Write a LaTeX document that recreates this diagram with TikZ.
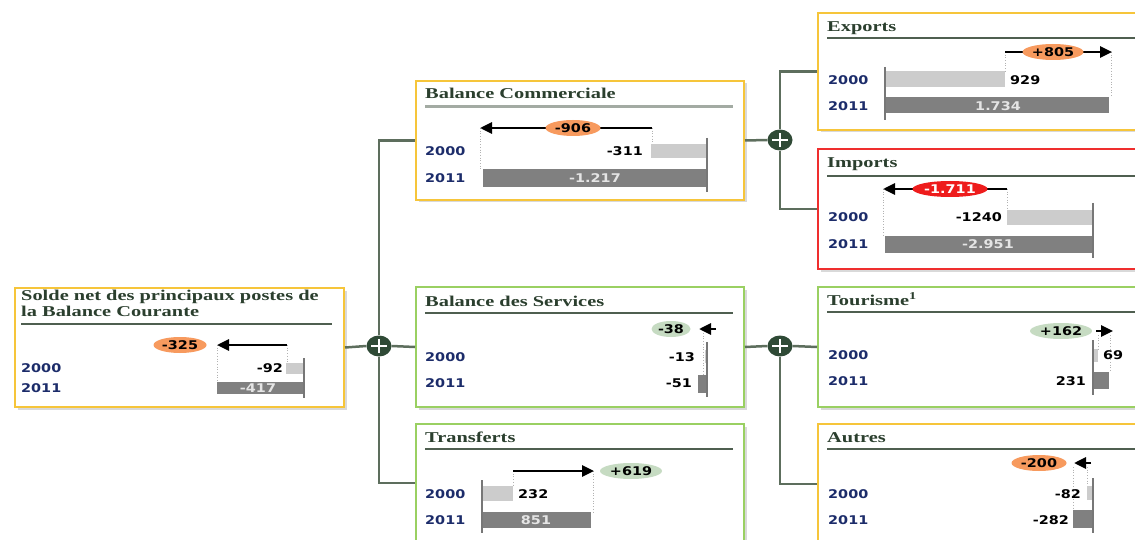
\documentclass[tikz,border=0pt]{standalone}
\usepackage{fontspec}
\setmainfont{Liberation Serif}
\newfontfamily\titlefont{Liberation Serif}[FakeStretch=1.36]
\newfontfamily\numfont{DejaVu Sans}[FakeStretch=1.2]
\usetikzlibrary{shapes.geometric,arrows.meta,shadows}
\definecolor{ttlc}{HTML}{2B3F2E}
\definecolor{navyc}{HTML}{1C2C6A}
\definecolor{boxy}{HTML}{F6C53A}
\definecolor{boxg}{HTML}{9AD062}
\definecolor{boxr}{HTML}{EF2E2E}
\definecolor{connc}{HTML}{5D6E5D}
\definecolor{plusc}{HTML}{2F4A36}
\definecolor{rulec}{HTML}{4F5F50}
\definecolor{rulelt}{HTML}{A3ABA3}
\definecolor{axisc}{HTML}{777777}
\definecolor{lbarc}{HTML}{CCCCCC}
\definecolor{dbarc}{HTML}{808080}
\definecolor{ellor}{HTML}{F79A5E}
\definecolor{ellgr}{HTML}{C6DBC2}
\definecolor{ellrd}{HTML}{EE1C1C}
\begin{document}
\begin{tikzpicture}[x=1pt,y=-1pt,
  panel/.style={draw, line width=2pt, fill=white, anchor=north west, inner sep=0,
    drop shadow={shadow xshift=2.5pt,shadow yshift=-2.5pt,opacity=0.3}},
  ybox/.style={panel, draw=boxy},
  gbox/.style={panel, draw=boxg},
  rbox/.style={panel, draw=boxr},
  conn/.style={draw=connc, line width=2.5pt},
  plusnode/.style={ellipse, fill=plusc, minimum width=25pt, minimum height=21pt, inner sep=0,
    path picture={\draw[white,line width=2.2pt]
      ([xshift=-8pt]path picture bounding box.center) -- ([xshift=8pt]path picture bounding box.center)
      ([yshift=-7pt]path picture bounding box.center) -- ([yshift=7pt]path picture bounding box.center);}},
  ttl/.style={font=\titlefont\bfseries\fontsize{15}{17}\selectfont, text=ttlc, anchor=base west, inner sep=0},
  yr/.style={font=\numfont\bfseries\fontsize{12}{12}\selectfont, text=navyc, anchor=west, inner sep=0},
  val/.style={font=\numfont\bfseries\fontsize{12}{12}\selectfont, text=black, inner sep=0},
  wval/.style={val, text=white!90!black},
  rule/.style={draw=rulec, line width=1.8pt},
  axisln/.style={draw=axisc, line width=2.5pt},
  lbar/.style={fill=lbarc},
  dbar/.style={fill=dbarc},
  guide/.style={draw=gray!60, dotted, line width=0.7pt},
  darr/.style={draw=black, line width=2.8pt, -{Triangle[length=12pt,width=11pt]}},
  dlt/.style={ellipse, inner sep=0, minimum height=16pt, font=\numfont\bfseries\fontsize{12}{12}\selectfont},
  dor/.style={dlt, fill=ellor},
  dgr/.style={dlt, fill=ellgr},
  drd/.style={dlt, fill=ellrd, text=white}]
\useasboundingbox (0,0) rectangle (1135,540);
\clip (0,0) rectangle (1135,540);

% ---------- boxes ----------
\node[ybox, minimum width=329pt, minimum height=119pt] (solde) at (14,287) {};
\node[ybox, minimum width=328pt, minimum height=119pt] (comm) at (415,80) {};
\node[gbox, minimum width=328pt, minimum height=120pt] (serv) at (415,286) {};
\node[gbox, minimum width=328pt, minimum height=120pt] (transf) at (415,423) {};
\node[ybox, minimum width=340pt, minimum height=117pt] (expo) at (817,12) {};
\node[rbox, minimum width=340pt, minimum height=120pt] (impo) at (817,148) {};
\node[gbox, minimum width=340pt, minimum height=120pt] (tour) at (817,286) {};
\node[ybox, minimum width=340pt, minimum height=120pt] (autr) at (817,423) {};

% ---------- connectors ----------
\node[plusnode] (p1) at (379,346) {};
\node[plusnode] (p2) at (780,140) {};
\node[plusnode] (p3) at (780,346) {};
\coordinate (j1) at (379,483);
\draw[conn] (solde.east) -- (p1.west);
\draw[conn] (p1.east) -- (serv.west);
\draw[conn] (p1.north) |- (comm.west);
\draw[conn] (p1.south) -- (j1) -- (j1 -| transf.west);
\draw[conn] (comm.east) -- (p2.west);
\draw[conn] (p2.north) |- (expo.west);
\draw[conn] (p2.south) |- (impo.west);
\draw[conn] (serv.east) -- (p3.west);
\draw[conn] (p3.east) -- (tour.west);
\draw[conn] (p3.south) |- (autr.west);

% ---------- Solde ----------
\node[ttl] (t1a) at (21,300) {Solde net des principaux postes de};
\node[ttl] (t1b) at (21,316) {la Balance Courante};
\draw[rule] (21,324) -- (332,324);
\draw[guide] (217,345) -- (217,382);
\draw[guide] (287,345) -- (287,363);
\draw[darr] (287,345) -- (217,345);
\node[dor, minimum width=53pt] (d1) at (180,345) {-325};
\fill[lbar] (286,363) rectangle (304,374);
\fill[dbar] (217,382) rectangle (304,394);
\draw[axisln] (304,358) -- (304,398);
\node[val, anchor=east] (v1a) at (283,368.5) {-92};
\node[wval] (v1b) at (258,388) {-417};
\node[yr] (y1a) at (21,368.5) {2000};
\node[yr] (y1b) at (21,388) {2011};

% ---------- Balance Commerciale ----------
\node[ttl] (t2) at (425,99) {Balance Commerciale};
\draw[draw=rulelt, line width=3pt] (425,107) -- (733,107);
\draw[guide] (480,128) -- (480,169);
\draw[guide] (652,128) -- (652,144);
\draw[darr] (652,128) -- (480,128);
\node[dor, minimum width=55pt] (d2) at (573,128) {-906};
\fill[lbar] (651,144) rectangle (707,158);
\fill[dbar] (483,169) rectangle (707,187);
\draw[axisln] (707,138) -- (707,192);
\node[val, anchor=east] (v2a) at (643,151) {-311};
\node[wval] (v2b) at (595,178) {-1.217};
\node[yr] (y2a) at (425,151) {2000};
\node[yr] (y2b) at (425,178) {2011};

% ---------- Exports ----------
\node[ttl] (t3) at (827,32) {Exports};
\draw[rule] (827,38) -- (1135,38);
\draw[guide] (1005,52) -- (1005,71);
\draw[guide] (1111,52) -- (1111,97);
\draw[darr] (1005,52) -- (1112,52);
\node[dor, minimum width=61pt] (d3) at (1053,52) {+805};
\fill[lbar] (885,71) rectangle (1005,87);
\fill[dbar] (885,97) rectangle (1109,113);
\draw[axisln] (885,67) -- (885,120);
\node[val, anchor=west] (v3a) at (1010,80) {929};
\node[wval] (v3b) at (998,106) {1.734};
\node[yr] (y3a) at (828,80) {2000};
\node[yr] (y3b) at (828,106) {2011};

% ---------- Imports ----------
\node[ttl] (t4) at (827,168) {Imports};
\draw[rule] (827,176) -- (1135,176);
\draw[guide] (883,189) -- (883,236);
\draw[guide] (1007,189) -- (1007,210);
\draw[darr] (1007,189) -- (883,189);
\node[drd, minimum width=75pt] (d4) at (950,189) {-1.711};
\fill[lbar] (1007,210) rectangle (1093,225);
\fill[dbar] (885,236) rectangle (1093,253);
\draw[axisln] (1093,203) -- (1093,258);
\node[val, anchor=east] (v4a) at (1002,217.5) {-1240};
\node[wval] (v4b) at (988,244.5) {-2.951};
\node[yr] (y4a) at (828,217.5) {2000};
\node[yr] (y4b) at (828,244.5) {2011};

% ---------- Balance des Services ----------
\node[ttl] (t5) at (425,306) {Balance des Services};
\draw[rule] (425,313) -- (733,313);
\draw[guide] (703,333) -- (703,375);
\draw[darr] (716,329) -- (699,329);
\node[dgr, minimum width=39pt] (d5) at (671,329) {-38};
\fill[lbar] (704.6,350) rectangle (707,363);
\fill[dbar] (698,375) rectangle (707,393);
\draw[axisln] (707,342) -- (707,397);
\node[val, anchor=east] (v5a) at (695,357) {-13};
\node[val, anchor=east] (v5b) at (692,383) {-51};
\node[yr] (y5a) at (425,357) {2000};
\node[yr] (y5b) at (425,383) {2011};

% ---------- Transferts ----------
\node[ttl] (t6) at (425,442) {Transferts};
\draw[rule] (425,449) -- (733,449);
\draw[guide] (513,471) -- (513,486);
\draw[guide] (593,471) -- (593,512);
\draw[darr] (513,471) -- (594,471);
\node[dgr, minimum width=62pt] (d6) at (631,471) {+619};
\fill[lbar] (482,486) rectangle (513,501);
\fill[dbar] (482,512) rectangle (591,528);
\draw[axisln] (482,480) -- (482,533);
\node[val, anchor=west] (v6a) at (518,494) {232};
\node[wval] (v6b) at (536,520) {851};
\node[yr] (y6a) at (425,494) {2000};
\node[yr] (y6b) at (425,520) {2011};

% ---------- Tourisme ----------
\node[ttl] (t7) at (827,305) {Tourisme\textsuperscript{1}};
\draw[rule] (827,312) -- (1135,312);
\draw[guide] (1098,335) -- (1098,349);
\draw[guide] (1110,335) -- (1110,372);
\draw[darr] (1096,331) -- (1113,331);
\node[dgr, minimum width=62pt] (d7) at (1061,331) {+162};
\fill[lbar] (1093,349) rectangle (1098,362);
\fill[dbar] (1093,372) rectangle (1109,389);
\draw[axisln] (1093,340) -- (1093,395);
\node[val, anchor=west] (v7a) at (1103,355) {69};
\node[val, anchor=east] (v7b) at (1086,381) {231};
\node[yr] (y7a) at (828,355) {2000};
\node[yr] (y7b) at (828,381) {2011};

% ---------- Autres ----------
\node[ttl] (t8) at (827,442) {Autres};
\draw[rule] (827,449) -- (1135,449);
\draw[guide] (1073,467) -- (1073,510);
\draw[guide] (1087,467) -- (1087,486);
\draw[darr] (1091,463) -- (1074,463);
\node[dor, minimum width=55pt] (d8) at (1039,463) {-200};
\fill[lbar] (1087,486) rectangle (1093,500);
\fill[dbar] (1073,510) rectangle (1093,528);
\draw[axisln] (1093,478) -- (1093,533);
\node[val, anchor=east] (v8a) at (1081,494) {-82};
\node[val, anchor=east] (v8b) at (1069,520) {-282};
\node[yr] (y8a) at (828,494) {2000};
\node[yr] (y8b) at (828,520) {2011};
\end{tikzpicture}
\end{document}
